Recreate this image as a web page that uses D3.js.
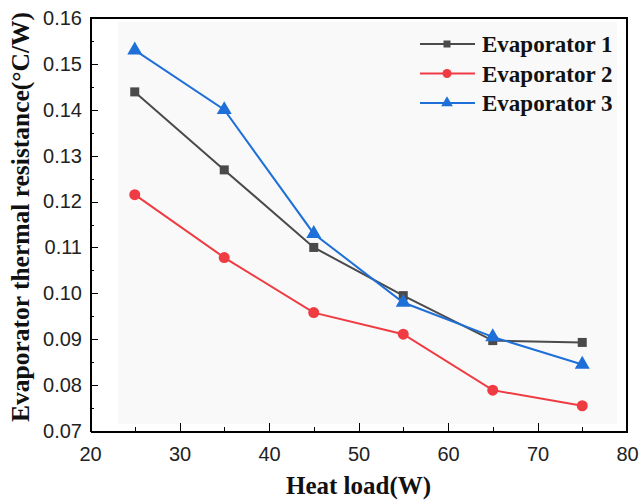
<!DOCTYPE html>
<meta charset="utf-8">
<style>
body { margin: 0; background: #fff; }
.tick text { font-family: "Liberation Sans", Arial, sans-serif; font-size: 20px; fill: #222; }
.axis path, .axis line { stroke: #000; shape-rendering: crispEdges; }
.title { font-family: "Liberation Serif", "Times New Roman", serif; font-weight: bold; fill: #111; }
</style>
<body>
<script src="https://d3js.org/d3.v7.min.js"></script>
<script>

// data
var heatLoad = [25, 35, 45, 55, 65, 75];
var evap1 = [0.1439, 0.1269, 0.1100, 0.0995, 0.0897, 0.0893];
var evap2 = [0.1215, 0.1078, 0.0958, 0.0911, 0.0789, 0.0755];
var evap3 = [0.1530, 0.1400, 0.1130, 0.0980, 0.0905, 0.0845];
var seriesNames = ["Evaporator 1", "Evaporator 2", "Evaporator 3"];
var xTicks = [20, 30, 40, 50, 60, 70, 80];
var yTicks = [0.07, 0.08, 0.09, 0.10, 0.11, 0.12, 0.13, 0.14, 0.15, 0.16];

var margin = {top: 18, right: 13, bottom: 72, left: 90};
var width = 640 - margin.left - margin.right;
var height = 503 - margin.top - margin.bottom;

var svg = d3.select("body").append("svg")
    .attr("width", 640)
    .attr("height", 503);
var g = svg.append("g")
    .attr("transform", "translate(" + margin.left + "," + margin.top + ")");

var x = d3.scaleLinear().domain([20, 80]).range([0, width]);
var y = d3.scaleLinear().domain([0.07, 0.16]).range([height, 0]);

var colors = ["#4a4a4a", "#ef3b42", "#1f6fd8"];
var series = [evap1, evap2, evap3];

// light grey plotting area
g.append("rect")
    .attr("x", x(23.1)).attr("y", 4)
    .attr("width", x(78.9) - x(23.1)).attr("height", height - 11)
    .attr("fill", "#f9f9f9");

// minor ticks
g.append("g").attr("class", "axis")
    .attr("transform", "translate(0," + height + ")")
    .call(d3.axisBottom(x).tickValues(d3.range(25, 80, 10)).tickSize(-4).tickFormat(""))
    .select(".domain").remove();
g.append("g").attr("class", "axis")
    .call(d3.axisLeft(y).tickValues(d3.range(0.075, 0.16, 0.01)).tickSize(-4).tickFormat(""))
    .select(".domain").remove();

var xAxis = g.append("g").attr("class", "axis")
    .attr("transform", "translate(0," + height + ")")
    .call(d3.axisBottom(x).tickValues(xTicks).tickSize(-8).tickPadding(12).tickSizeOuter(0));
xAxis.selectAll(".tick text").attr("dy", "0.9em");
xAxis.select(".domain").attr("stroke-width", 2);

var yAxis = g.append("g").attr("class", "axis")
    .call(d3.axisLeft(y).tickValues(yTicks).tickSize(-8).tickPadding(8).tickSizeOuter(0)
      .tickFormat(d3.format(".2f")));
yAxis.select(".domain").attr("stroke-width", 2);

// frame top and right
g.append("path")
    .attr("d", "M0,0H" + width + "V" + height)
    .attr("fill", "none").attr("stroke", "#000").attr("stroke-width", 2);

var line = d3.line()
    .x(function(d, i) { return x(heatLoad[i]); })
    .y(function(d) { return y(d); });

function marker(sel, k, s) {
  if (k === 0) {
    sel.append("rect").attr("x", -s).attr("y", -s).attr("width", 2 * s).attr("height", 2 * s);
  } else if (k === 1) {
    sel.append("circle").attr("r", s + 1);
  } else {
    sel.append("path").attr("d", d3.symbol(d3.symbolTriangle, s * s * 4.8)());
  }
}

series.forEach(function(vals, k) {
  g.append("path").datum(vals)
      .attr("d", line)
      .attr("fill", "none")
      .attr("stroke", colors[k])
      .attr("stroke-width", 2);
  vals.forEach(function(v, i) {
    var m = g.append("g")
        .attr("transform", "translate(" + x(heatLoad[i]) + "," + y(v) + ")")
        .attr("fill", colors[k]);
    marker(m, k, 4.5);
  });
});

// legend
var legend = svg.selectAll(".legend")
    .data(seriesNames)
    .enter().append("g")
    .attr("class", "legend")
    .attr("transform", function(d, i) { return "translate(420," + (44 + i * 29.5) + ")"; });
legend.append("line")
    .attr("x1", 0).attr("x2", 55)
    .attr("stroke", function(d, i) { return colors[i]; })
    .attr("stroke-width", 2);
legend.each(function(d, i) {
  var m = d3.select(this).append("g")
      .attr("transform", "translate(27,0)")
      .attr("fill", colors[i]);
  marker(m, i, 3.5);
});
legend.append("text")
    .attr("class", "title")
    .attr("x", 62).attr("dy", "0.35em")
    .style("font-size", "23px")
    .text(function(d) { return d; });

// axis titles
svg.append("text")
    .attr("class", "title")
    .attr("x", margin.left + width / 2).attr("y", 494)
    .attr("text-anchor", "middle")
    .style("font-size", "25px")
    .text("Heat load(W)");

svg.append("text")
    .attr("class", "title")
    .attr("transform", "translate(29,217) rotate(-90)")
    .attr("text-anchor", "middle")
    .style("font-size", "25.5px")
    .text("Evaporator thermal resistance(°C/W)");

</script>
